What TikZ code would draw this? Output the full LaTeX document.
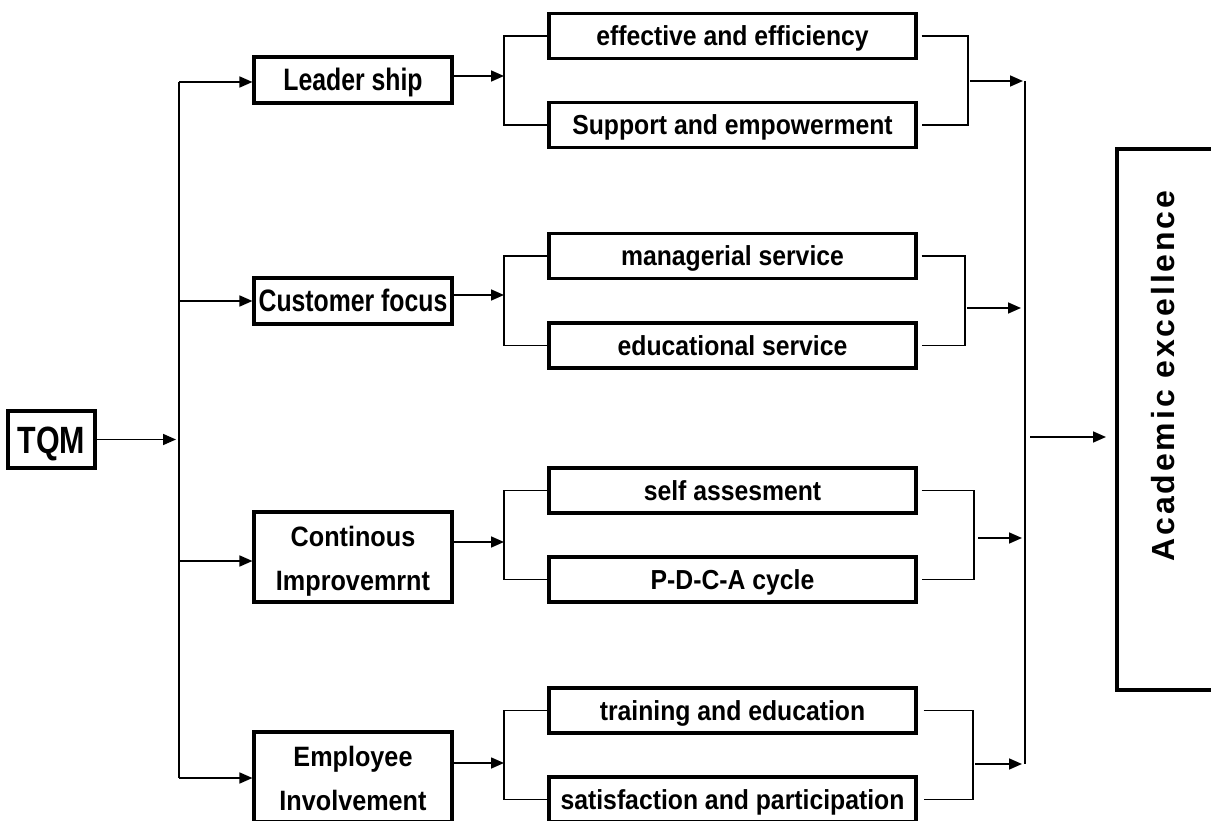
\documentclass[tikz,border=0pt]{standalone}
\usepackage{fontspec}
\setmainfont{Liberation Sans}
\newfontfamily\nfa[FakeStretch=0.8]{Liberation Sans}
\newfontfamily\nfb[FakeStretch=0.9]{Liberation Sans}
\newfontfamily\acfont[LetterSpace=9]{Liberation Sans}
\usetikzlibrary{arrows.meta}
\begin{document}
\begin{tikzpicture}[x=1pt,y=-1pt,
  box/.style={draw, line width=3.1pt, inner sep=0pt},
  mainbox/.style={box, minimum width=198pt, minimum height=46pt, text height=22pt, text depth=0pt, font=\nfa\bfseries\fontsize{31}{36}\selectfont},
  twobox/.style={box, align=center, minimum width=198pt, minimum height=90pt, text height=66pt, text depth=0pt, font=\nfb\bfseries\fontsize{28}{44}\selectfont},
  subbox/.style={box, minimum width=367pt, minimum height=45pt, text height=19.7pt, text depth=0pt, font=\nfb\bfseries\fontsize{27.5}{32}\selectfont},
  ln/.style={line width=1.6pt},
  arr/.style={ln, -{Triangle[length=13pt,width=11pt]}}
]
\useasboundingbox (0,0) rectangle (1211,821);
\fill[white] (0,0) rectangle (1211,821);

% nodes
\node[box, minimum width=87pt, minimum height=57pt, text height=27pt, text depth=0pt, font=\nfa\bfseries\fontsize{38}{42}\selectfont] (tqm) at (51.5,439.5) {TQM};
\node[mainbox] (lead) at (353,80) {Leader ship};
\node[mainbox] (cust) at (353,301) {Customer focus};
\node[twobox] (cont) at (353,557) {Continous\\Improvemrnt};
\node[twobox] (emp) at (353,777) {Employee\\Involvement};

\node[subbox] (eff) at (732.5,36) {effective and efficiency};
\node[subbox] (sup) at (732.5,125) {Support and empowerment};
\node[subbox] (man) at (732.5,256) {managerial service};
\node[subbox] (edu) at (732.5,345.5) {educational service};
\node[subbox] (self) at (732.5,490.5) {self assesment};
\node[subbox] (pdca) at (732.5,579.5) {P-D-C-A cycle};
\node[subbox] (train) at (732.5,710.5) {training and education};
\node[subbox] (sat) at (732.5,799.5) {satisfaction and participation};

\node[draw, line width=4pt, minimum width=102pt, minimum height=541pt, inner sep=0pt] (acad) at (1168,419.5) {};
\node[rotate=90, font=\acfont\bfseries\fontsize{32}{36}\selectfont, inner sep=0pt] (acadtext) at (1163,376) {Academic excellence};

% trunk
\coordinate (tt) at (179,82);
\coordinate (tb) at (179,778);
\draw[ln] (tt) -- (tb);
\draw[arr, shorten >=3pt] (tqm.east) -- (tt |- tqm.east);
\draw[arr] (tt) -- (lead.west |- tt);
\draw[arr] (tt |- cust.west) -- (cust.west);
\draw[arr] (179,561) coordinate (t3) -- (cont.west |- t3);
\draw[arr] (tb) -- (emp.west |- tb);

% left brackets
\coordinate (a1) at (504,76);
\coordinate (a2) at (504,295);
\coordinate (a3) at (504,542);
\coordinate (a4) at (504,763);
\draw[arr] (lead.east |- a1) -- (a1);
\draw[arr] (cust.east |- a2) -- (a2);
\draw[arr] (cont.east |- a3) -- (a3);
\draw[arr] (emp.east |- a4) -- (a4);
\draw[ln] (eff.west) -| (a1) |- (sup.west);
\draw[ln] (man.west) -| (a2) |- (edu.west);
\draw[ln] (self.west) -| (a3) |- (pdca.west);
\draw[ln] (train.west) -| (a4) |- (sat.west);

% right brackets
\coordinate (r1) at (968,81);
\coordinate (r2) at (965,308);
\coordinate (r3) at (974,538);
\coordinate (r4) at (973,764);
\draw[ln] ([xshift=4pt]eff.east) -| (r1) |- ([xshift=4pt]sup.east);
\draw[ln] ([xshift=4pt]man.east) -| (r2) |- ([xshift=4pt]edu.east);
\draw[ln] ([xshift=4pt]self.east) -| (r3) |- ([xshift=4pt]pdca.east);
\draw[ln] ([xshift=6pt]train.east) -| (r4) |- ([xshift=6pt]sat.east);

% collector
\coordinate (ct) at (1025,81);
\coordinate (cb) at (1025,764);
\coordinate (cm) at (1025,437);
\draw[ln] (ct) -- (cb);
\draw[arr, shorten >=2pt] ([xshift=2pt]r1) -- (r1 -| ct);
\draw[arr, shorten >=4pt] ([xshift=2pt]r2) -- (r2 -| ct);
\draw[arr, shorten >=3pt] ([xshift=4pt]r3) -- (r3 -| ct);
\draw[arr, shorten >=3pt] ([xshift=2pt]r4) -- (r4 -| ct);
\draw[arr, shorten >=9pt] ([xshift=5pt]cm) -- (acad.west |- cm);
\end{tikzpicture}
\end{document}
